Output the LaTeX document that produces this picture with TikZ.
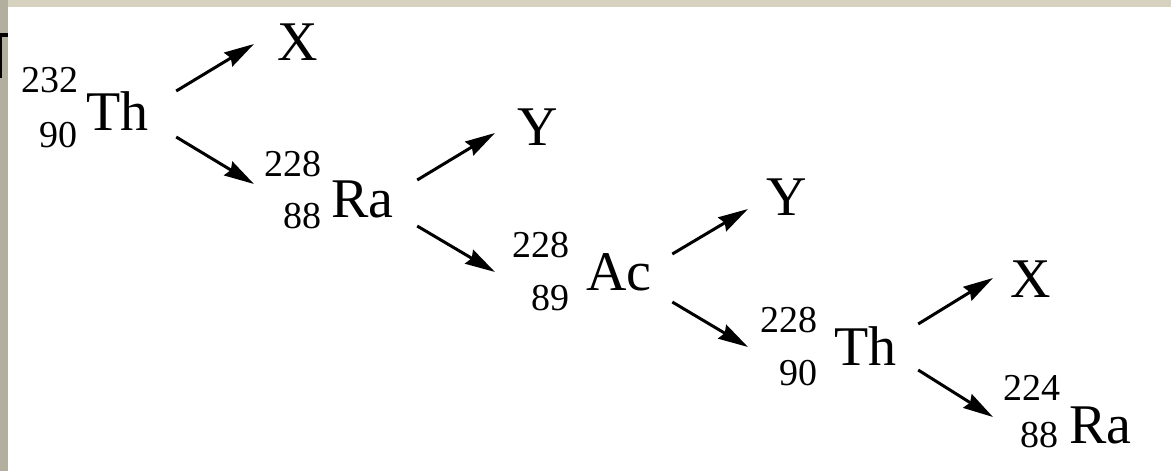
\documentclass[tikz,border=0pt]{standalone}
\usepackage{fontspec}
\setmainfont{Liberation Serif}
\newfontfamily\timesfam{Liberation Serif}
\usetikzlibrary{arrows.meta,calc}
\begin{document}
\begin{tikzpicture}[x=1pt,y=-1pt,
  sym/.style={inner sep=0pt,outer sep=0pt,anchor=base west,font=\timesfam\fontsize{56}{60}\selectfont},
  num/.style={inner sep=0pt,outer sep=0pt,anchor=base east,font=\timesfam\fontsize{38}{42}\selectfont},
  arr/.style={line width=3pt,-{Stealth[length=30pt,width=16pt,inset=3pt]}}]
\useasboundingbox (0,0) rectangle (1171,471);
% background and frame fragments
\fill[white] (0,0) rectangle (1171,471);
\fill[fill={rgb,255:red,214;green,210;blue,191}] (0,0) rectangle (1171,7);
\fill[fill={rgb,255:red,179;green,175;blue,158}] (0,0) rectangle (8,471);
\fill[black] (0,33) rectangle (8,37);
\fill[black] (0,33) rectangle (2,78);
% thorium-232
\node[sym] (th1) at (86,130) {Th};
\node[num] (th1m) at (78,92) {232};
\node[num] (th1z) at (77,147) {90};
\node[sym] (x1) at (277,60) {X};
% radium-228
\node[sym] (ra1) at (331,217) {Ra};
\node[num] (ra1m) at (321,176) {228};
\node[num] (ra1z) at (321,228) {88};
\node[sym] (y1) at (517,145) {Y};
% actinium-228
\node[sym] (ac) at (586,290) {Ac};
\node[num] (acm) at (569,257) {228};
\node[num] (acz) at (569,310) {89};
\node[sym] (y2) at (766,215) {Y};
% thorium-228
\node[sym] (th2) at (834,365) {Th};
\node[num] (th2m) at (817,332) {228};
\node[num] (th2z) at (817,385) {90};
\node[sym] (x2) at (1010,297) {X};
% radium-224
\node[sym] (ra2) at (1069,443) {Ra};
\node[num] (ra2m) at (1060,400) {224};
\node[num] (ra2z) at (1058,447) {88};
% arrows
\draw[arr] ([shift={(28,-39)}]th1.base east) -- ([shift={(-23,-16)}]x1.base west);
\draw[arr] ([shift={(28,7)}]th1.base east) -- ([shift={(-10,8)}]ra1m.base west);
\draw[arr] ([shift={(24,-37)}]ra1.base east) -- ([shift={(-22,-12)}]y1.base west);
\draw[arr] ([shift={(24,9)}]ra1.base east) -- ([shift={(-17,15)}]acm.base west);
\draw[arr] ([shift={(21,-36)}]ac.base east) -- ([shift={(-18,-6)}]y2.base west);
\draw[arr] ([shift={(21,12)}]ac.base east) -- ([shift={(-12,15)}]th2m.base west);
\draw[arr] ([shift={(22,-41)}]th2.base east) -- ([shift={(-17,-19)}]x2.base west);
\draw[arr] ([shift={(22,5)}]th2.base east) -- ([shift={(-10,17)}]ra2m.base west);
\end{tikzpicture}
\end{document}
